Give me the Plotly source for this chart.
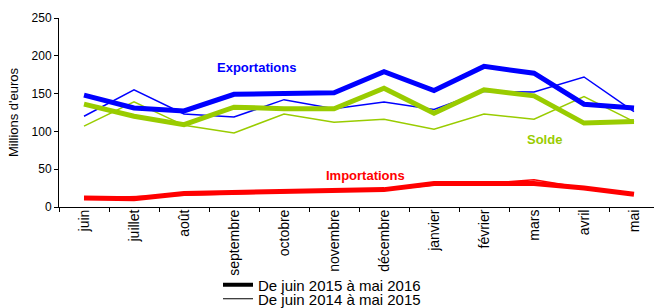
import plotly.graph_objects as go

months = ["juin", "juillet", "août", "septembre", "octobre", "novembre",
          "décembre", "janvier", "février", "mars", "avril", "mai"]

export_2015_16 = [148, 131, 127, 149, 150, 151, 179, 154, 186, 177, 136, 131]
export_2014_15 = [120, 155, 123, 119, 142, 130, 139, 129, 153, 152, 172, 126]
solde_2015_16 = [136, 120, 109, 132, 130, 130, 157, 124, 155, 147, 111, 113]
solde_2014_15 = [107, 139, 108, 98, 123, 112, 116, 103, 123, 116, 146, 113]
import_2015_16 = [12, 11, 18, 19, 21, 22, 23, 31, 31, 31, 25, 17]
import_2014_15 = [12, 14, 16, 18, 20, 21, 22, 29, 31, 36, 25, 17]

legend_labels = ["De juin 2015 à mai 2016", "De juin 2014 à mai 2015"]

BLUE = "#0000FF"
GREEN = "#99CC00"
RED = "#FF0000"
FONT = "Liberation Sans, Arial, sans-serif"

fig = go.Figure()

thin = [(export_2014_15, BLUE), (solde_2014_15, GREEN), (import_2014_15, RED)]
thick = [(import_2015_16, RED), (solde_2015_16, GREEN), (export_2015_16, BLUE)]

for vals, col in thin:
    fig.add_trace(go.Scatter(x=months, y=vals, mode="lines",
                             line=dict(color=col, width=1.5), showlegend=False,
                             hoverinfo="skip"))
for vals, col in thick:
    fig.add_trace(go.Scatter(x=months, y=vals, mode="lines",
                             line=dict(color=col, width=5), showlegend=False,
                             hoverinfo="skip"))

# legend dummies
fig.add_trace(go.Scatter(x=[None], y=[None], mode="lines", name=legend_labels[0],
                         line=dict(color="black", width=4), legend="legend"))
fig.add_trace(go.Scatter(x=[None], y=[None], mode="lines", name=legend_labels[1],
                         line=dict(color="black", width=1.2), legend="legend2"))

ann_font = dict(family=FONT, size=13)
fig.add_annotation(x=3.44, y=184, xref="x", yref="y", text="<b>Exportations</b>",
                   showarrow=False, font=dict(ann_font, color=BLUE))
fig.add_annotation(x=5.62, y=42, xref="x", yref="y", text="<b>Importations</b>",
                   showarrow=False, font=dict(ann_font, color=RED))
fig.add_annotation(x=9.21, y=89, xref="x", yref="y", text="<b>Solde</b>",
                   showarrow=False, font=dict(ann_font, color=GREEN))

leg_common = dict(xref="paper", yref="container", xanchor="left", yanchor="middle",
                  bgcolor="rgba(0,0,0,0)", borderwidth=0,
                  font=dict(family=FONT, size=15, color="black"),
                  itemwidth=30, tracegroupgap=0)
fig.update_layout(
    legend=dict(leg_common, x=(218 - 59) / 595, y=1 - 285 / 308),
    legend2=dict(leg_common, x=(218 - 59) / 595, y=1 - 299 / 308),
)

fig.update_layout(
    width=654, height=308,
    margin=dict(l=59, r=0, t=18, b=101, autoexpand=False),
    paper_bgcolor="white", plot_bgcolor="white",
    font=dict(family=FONT, color="black"),
    xaxis=dict(type="category", range=[-0.5, 11.4], showgrid=False,
               showline=True, linecolor="black", linewidth=1, automargin=False,
               ticks="outside", tickson="boundaries", ticklen=4, tickcolor="black",
               ticklabelstandoff=-4,
               tickangle=-90, tickfont=dict(size=14, family=FONT), zeroline=False),
    yaxis=dict(range=[0, 250], tickvals=[0, 50, 100, 150, 200, 250],
               showgrid=False, showline=True, linecolor="black", linewidth=1,
               automargin=False,
               ticks="outside", ticklen=4, tickcolor="black",
               tickfont=dict(size=12, family=FONT), zeroline=False,
               title=dict(text="Millions d'euros", font=dict(size=13, family=FONT),
                          standoff=10)),
)

fig.write_html("out.html", config={"displayModeBar": False},
               post_script="document.body.style.margin='0';document.body.style.overflow='hidden';")
